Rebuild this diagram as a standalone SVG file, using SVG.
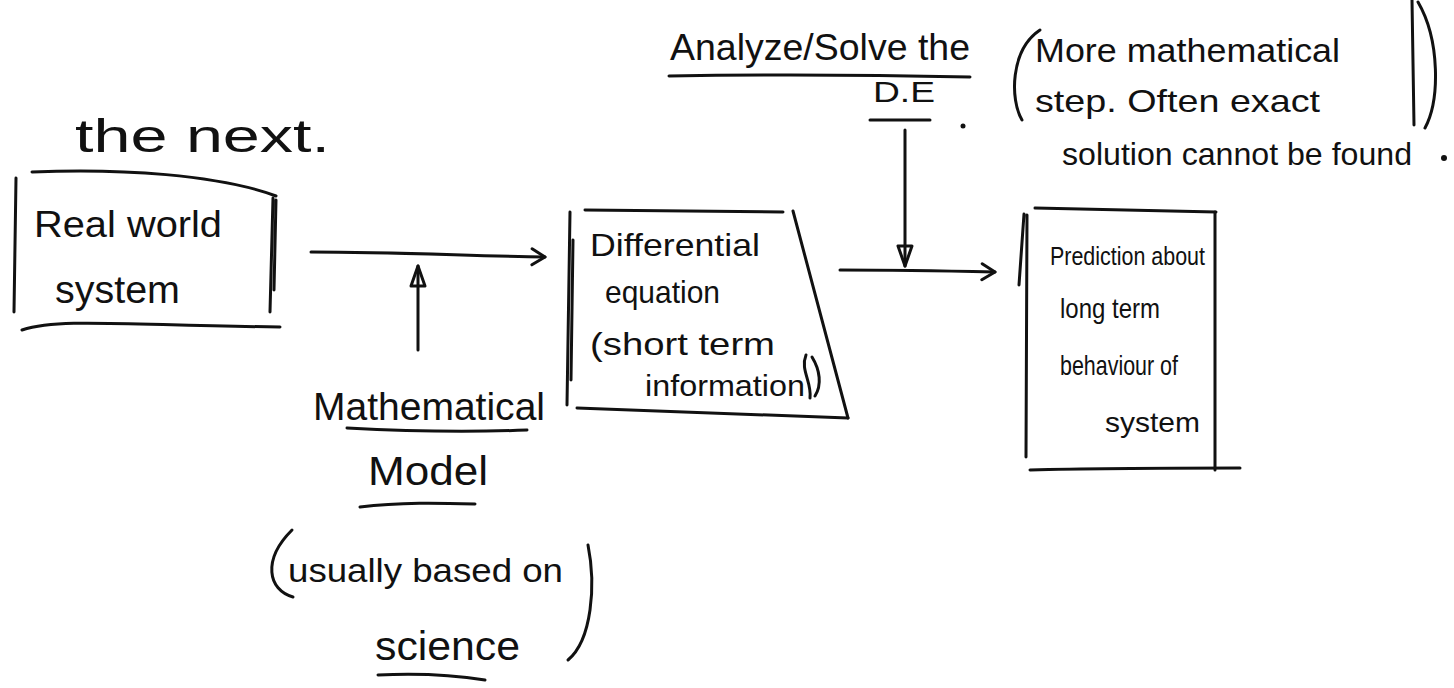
<svg xmlns="http://www.w3.org/2000/svg" width="1454" height="688" viewBox="0 0 1454 688">
<defs>
<style>
.ln{fill:none;stroke:#111;stroke-width:3;stroke-linecap:round;stroke-linejoin:round}
.t{font-family:"Liberation Sans","Open Sans",sans-serif;fill:#111}
</style>
<marker id="chev" viewBox="0 0 20 20" refX="17" refY="10" markerWidth="20" markerHeight="20" markerUnits="userSpaceOnUse" orient="auto">
<path d="M4,2 L17,10 L4,18" fill="none" stroke="#111" stroke-width="3" stroke-linecap="round" stroke-linejoin="round"/>
</marker>
<marker id="tri" viewBox="0 0 24 20" refX="22" refY="10" markerWidth="24" markerHeight="20" markerUnits="userSpaceOnUse" orient="auto">
<path d="M2,3 L22,10 L2,17 Z" fill="none" stroke="#111" stroke-width="3" stroke-linejoin="round"/>
</marker>
</defs>
<rect width="1454" height="688" fill="#ffffff"/>

<g id="heading">
<text class="t" x="75" y="152" font-size="46" textLength="255" lengthAdjust="spacingAndGlyphs">the   next.</text>
</g>

<g id="real-world">
<path class="ln" d="M16,178 L14,312"/>
<path class="ln" d="M32,172 C120,168 220,175 276,196"/>
<path class="ln" d="M273,198 L270,312 M276,200 L274,290"/>
<path class="ln" d="M22,330 C60,318 120,325 280,327"/>
<text class="t" x="34" y="237" font-size="36" textLength="188" lengthAdjust="spacingAndGlyphs">Real  world</text>
<text class="t" x="55" y="303" font-size="38" textLength="125" lengthAdjust="spacingAndGlyphs">system</text>
</g>

<g id="model">
<text class="t" x="313" y="420" font-size="38" textLength="232" lengthAdjust="spacingAndGlyphs">Mathematical</text>
<path class="ln" d="M347,428 C420,432 480,432 527,430"/>
<text class="t" x="368" y="485" font-size="40" textLength="120" lengthAdjust="spacingAndGlyphs">Model</text>
<path class="ln" d="M360,507 C400,502 440,503 475,504"/>
<path class="ln" d="M292,530 C262,560 268,590 293,597"/>
<text class="t" x="288" y="582" font-size="34" textLength="275" lengthAdjust="spacingAndGlyphs">usually based on</text>
<path class="ln" d="M588,545 C596,585 592,640 568,660"/>
<text class="t" x="375" y="660" font-size="40" textLength="145" lengthAdjust="spacingAndGlyphs">science</text>
<path class="ln" d="M378,675 C420,673 460,676 485,680"/>
</g>

<g id="diff-eq">
<path class="ln" d="M585,210 L783,212"/>
<path class="ln" d="M570,212 L567,405 M573,240 L571,380"/>
<path class="ln" d="M793,211 L848,418"/>
<path class="ln" d="M577,408 C700,412 780,415 848,418"/>
<text class="t" x="590" y="256" font-size="32" textLength="170" lengthAdjust="spacingAndGlyphs">Differential</text>
<text class="t" x="605" y="303" font-size="32" textLength="115" lengthAdjust="spacingAndGlyphs">equation</text>
<text class="t" x="590" y="355" font-size="32" textLength="185" lengthAdjust="spacingAndGlyphs">(short term</text>
<text class="t" x="645" y="396" font-size="30" textLength="160" lengthAdjust="spacingAndGlyphs">information</text>
<path class="ln" d="M806,355 C800,370 812,382 810,398 M812,357 C820,370 822,385 815,396"/>
</g>

<g id="prediction">
<path class="ln" d="M1035,208 C1100,210 1160,211 1216,212"/>
<path class="ln" d="M1027,215 L1026,457 M1024,214 L1019,285"/>
<path class="ln" d="M1215,212 L1215,470"/>
<path class="ln" d="M1030,470 C1100,468 1180,468 1240,468"/>
<text class="t" x="1050" y="265" font-size="26" textLength="155" lengthAdjust="spacingAndGlyphs">Prediction about</text>
<text class="t" x="1060" y="318" font-size="28" textLength="100" lengthAdjust="spacingAndGlyphs">long term</text>
<text class="t" x="1060" y="375" font-size="28" textLength="118" lengthAdjust="spacingAndGlyphs">behaviour  of</text>
<text class="t" x="1105" y="432" font-size="28" textLength="95" lengthAdjust="spacingAndGlyphs">system</text>
</g>

<g id="analyze">
<text class="t" x="670" y="60" font-size="36" textLength="300" lengthAdjust="spacingAndGlyphs">Analyze/Solve  the</text>
<path class="ln" d="M669,76 C780,74 880,75 970,77"/>
<text class="t" x="873" y="102" font-size="30" textLength="62" lengthAdjust="spacingAndGlyphs">D.E</text>
<path class="ln" d="M870,120 L930,120"/>
<circle cx="963" cy="126" r="2.5" fill="#111"/>
</g>

<g id="note">
<path class="ln" d="M1040,30 C1010,50 1010,100 1022,120"/>
<text class="t" x="1035" y="62" font-size="34" textLength="305" lengthAdjust="spacingAndGlyphs">More  mathematical</text>
<text class="t" x="1035" y="112" font-size="32" textLength="285" lengthAdjust="spacingAndGlyphs">step. Often  exact</text>
<text class="t" x="1062" y="165" font-size="32" textLength="350" lengthAdjust="spacingAndGlyphs">solution cannot be found</text>
<path class="ln" d="M1412,0 L1414,125"/>
<path class="ln" d="M1418,2 C1440,40 1440,100 1425,128"/>
<circle cx="1444" cy="158" r="3" fill="#111"/>
</g>

<g id="connectors">
<path class="ln" d="M311,252 C400,252 470,256 545,257" marker-end="url(#chev)"/>
<path class="ln" d="M418,350 L418,266" marker-end="url(#tri)"/>
<path class="ln" d="M840,270 C900,270 950,271 995,272" marker-end="url(#chev)"/>
<path class="ln" d="M905,130 L905,266" marker-end="url(#tri)"/>
</g>
</svg>
